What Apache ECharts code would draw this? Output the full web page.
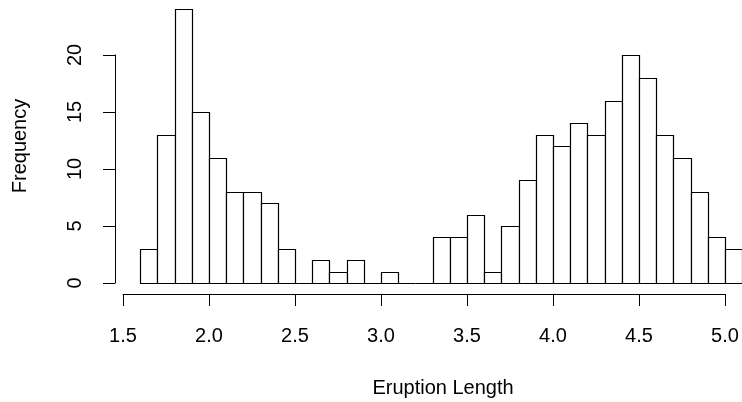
<!DOCTYPE html>
<html>
<head>
<meta charset="utf-8">
<script src="https://cdn.jsdelivr.net/npm/echarts@6/dist/echarts.min.js"></script>
<style>
html,body{margin:0;padding:0;background:#fff;}
#chart{width:742px;height:402px;}
</style>
</head>
<body>
<div id="chart"></div>
<script>
// Histogram bin edges (left edges), bin width 0.1
var binStarts = [1.6,1.7,1.8,1.9,2.0,2.1,2.2,2.3,2.4,2.5,2.6,2.7,2.8,2.9,3.0,3.1,3.2,3.3,3.4,3.5,3.6,3.7,3.8,3.9,4.0,4.1,4.2,4.3,4.4,4.5,4.6,4.7,4.8,4.9,5.0];
var binEnds   = [1.7,1.8,1.9,2.0,2.1,2.2,2.3,2.4,2.5,2.6,2.7,2.8,2.9,3.0,3.1,3.2,3.3,3.4,3.5,3.6,3.7,3.8,3.9,4.0,4.1,4.2,4.3,4.4,4.5,4.6,4.7,4.8,4.9,5.0,5.1];
var counts    = [3,13,24,15,11,8,8,7,3,0,2,1,2,0,1,0,0,4,4,6,1,5,9,13,12,14,13,16,20,18,13,11,8,4,3];
var xTicks = [1.5,2.0,2.5,3.0,3.5,4.0,4.5,5.0];
var yTicks = [0,5,10,15,20];
var xTitle = 'Eruption Length';
var yTitle = 'Frequency';

var FONT = '"Liberation Sans", Arial, Helvetica, sans-serif';
var data = [];
for (var i = 0; i < counts.length; i++) data.push([binStarts[i], binEnds[i], counts[i]]);

var chart = echarts.init(document.getElementById('chart'), null, {renderer: 'canvas'});
chart.setOption({
  animation: false,
  backgroundColor: '#ffffff',
  grid: {left: 123, right: 17, top: 55, bottom: 119, containLabel: false},
  xAxis: {
    type: 'value',
    min: xTicks[0], max: xTicks[xTicks.length - 1], interval: 0.5,
    offset: 11,
    axisLine: {show: true, onZero: false, lineStyle: {color: '#000', width: 1}},
    axisTick: {show: true, length: 12, lineStyle: {color: '#000', width: 1}},
    axisLabel: {color: '#000', fontFamily: FONT, fontSize: 20, margin: 32,
      formatter: function (v) { return v.toFixed(1); }},
    splitLine: {show: false}
  },
  yAxis: {
    type: 'value',
    min: yTicks[0], max: yTicks[yTicks.length - 1], interval: 5,
    offset: 8,
    axisLine: {show: true, onZero: false, lineStyle: {color: '#000', width: 1}},
    axisTick: {show: true, length: 12, lineStyle: {color: '#000', width: 1}},
    axisLabel: {color: '#000', fontFamily: FONT, fontSize: 20, margin: 30, rotate: 90},
    splitLine: {show: false}
  },
  graphic: [
    {type: 'text', x: 443, y: 388, style: {text: xTitle, fontFamily: FONT, fontSize: 20, fill: '#000', textAlign: 'center', textVerticalAlign: 'middle'}},
    {type: 'text', x: 20, y: 146, rotation: Math.PI / 2, style: {text: yTitle, fontFamily: FONT, fontSize: 20, fill: '#000', textAlign: 'center', textVerticalAlign: 'middle'}}
  ],
  series: [{
    type: 'custom',
    clip: false,
    data: data,
    renderItem: function (params, api) {
      var p0 = api.coord([api.value(0), 0]);
      var p1 = api.coord([api.value(1), api.value(2)]);
      var x0 = Math.round(p0[0]) + 0.5, x1 = Math.round(p1[0]) + 0.5;
      var y0 = Math.round(p0[1]) + 0.5, y1 = Math.round(p1[1]) + 0.5;
      return {
        type: 'rect',
        shape: {x: x0, y: y1, width: x1 - x0, height: y0 - y1},
        style: {fill: '#ffffff', stroke: '#000000', lineWidth: 1.2}
      };
    }
  }]
});
</script>
</body>
</html>
